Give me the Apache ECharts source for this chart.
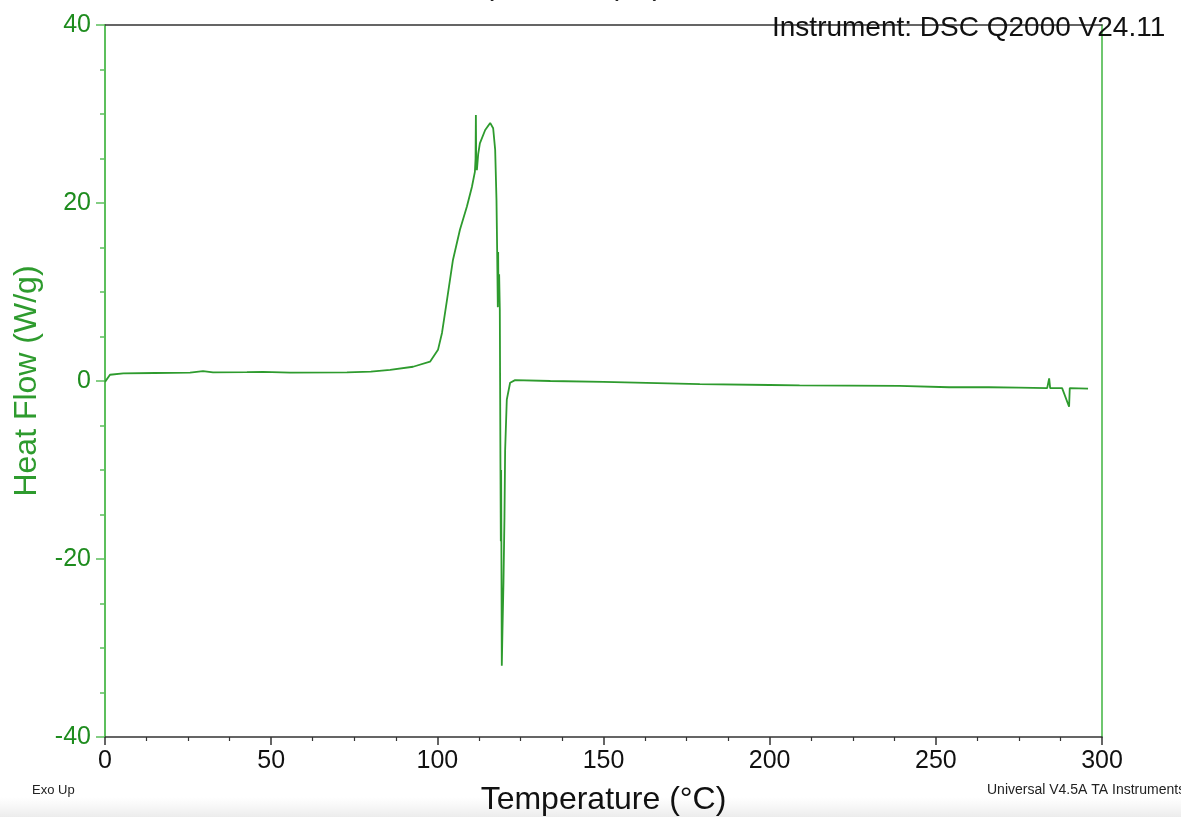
<!DOCTYPE html>
<html>
<head>
<meta charset="utf-8">
<script src="https://cdn.jsdelivr.net/npm/echarts@6/dist/echarts.min.js"></script>
<style>
html,body{margin:0;padding:0;background:#fff;}
#chart{width:1181px;height:817px;}
</style>
</head>
<body>
<div id="chart"></div>
<script>
// Temperature (°C)
const temps = [0.0, 1.5, 5.5, 15, 25.6, 29.5, 32.5, 42.7, 47.5, 55.7, 72.8, 80, 85.8, 92.7, 97.8, 100.2,
  101.4, 102.9, 104.7, 106.8, 108.9, 110.4, 111.3, 111.5, 111.6, 111.7, 111.9, 112.3, 112.8, 114.4, 115.9,
  116.8, 117.4, 117.8, 118.0, 118.2, 118.3, 118.4, 118.6, 118.8, 119.0, 119.1, 119.2, 119.4, 119.6, 119.9,
  120.2, 120.4, 120.9, 121.9, 123.4, 134, 150, 179, 200, 209, 239, 254, 265, 265.5, 266, 275, 283.5, 284.1,
  284.4, 288, 290.1, 290.3, 295.8];
// Heat Flow (W/g)
const heatFlow = [-0.1, 0.7, 0.85, 0.9, 0.93, 1.1, 0.96, 1.0, 1.03, 0.93, 0.97, 1.05, 1.24, 1.6, 2.17, 3.5,
  5.4, 9.1, 13.6, 17.0, 19.6, 21.8, 23.5, 25.0, 29.9, 24.5, 23.7, 25.5, 26.7, 28.2, 29.0,
  28.4, 26.0, 20.3, 14.7, 8.3, 14.5, 9.0, 12.0, 8.0, -10.0, -18.0, -10.0, -32.0, -28.0, -22.7,
  -15.3, -7.8, -2.1, -0.2, 0.1, 0.0, -0.1, -0.35, -0.45, -0.5, -0.55, -0.7, -0.7, -0.9, -0.7, -0.75, -0.8, 0.3,
  -0.8, -0.8, -2.9, -0.8, -0.85];
const xTicks = [0, 50, 100, 150, 200, 250, 300];
const yTicks = [-40, -20, 0, 20, 40];

const font = 'Liberation Sans, Arial, sans-serif';
const green = '#2e9b2e';
const axisGreen = '#5cbf5c';
const labelGreen = '#1e8c1e';

const chart = echarts.init(document.getElementById('chart'));
chart.setOption({
  animation: false,
  backgroundColor: '#ffffff',
  grid: { left: 105, right: 79, top: 25, bottom: 80, outerBoundsMode: 'none', containLabel: false },
  xAxis: [{
    type: 'value', min: xTicks[0], max: xTicks[xTicks.length - 1], interval: 50,
    axisLine: { show: true, onZero: false, lineStyle: { color: '#333', width: 1.5 } },
    axisTick: { show: true, inside: false, length: 8, lineStyle: { color: '#333', width: 1.5 } },
    minorTick: { show: true, splitNumber: 4, length: 4, lineStyle: { color: '#333', width: 1.2 } },
    splitLine: { show: false },
    axisLabel: { color: '#111', fontSize: 25, margin: 12, fontFamily: font },
    name: 'Temperature (°C)', nameLocation: 'middle', nameGap: 47,
    nameTextStyle: { color: '#111', fontSize: 32, fontFamily: font }
  }, {
    type: 'value', position: 'top', min: 0, max: 300,
    axisLine: { show: true, onZero: false, lineStyle: { color: '#333', width: 1.5 } },
    axisTick: { show: false }, axisLabel: { show: false }, splitLine: { show: false }
  }],
  yAxis: [{
    type: 'value', min: yTicks[0], max: yTicks[yTicks.length - 1], interval: 20,
    axisLine: { show: true, onZero: false, lineStyle: { color: axisGreen, width: 2 } },
    axisTick: { show: true, inside: false, length: 9, lineStyle: { color: axisGreen, width: 1.5 } },
    minorTick: { show: true, splitNumber: 4, length: 5, lineStyle: { color: axisGreen, width: 1.5 } },
    splitLine: { show: false },
    axisLabel: { color: labelGreen, fontSize: 25, margin: 14, fontFamily: font },
    name: 'Heat Flow (W/g)', nameLocation: 'middle', nameGap: 62,
    nameTextStyle: { color: green, fontSize: 32, fontFamily: font }
  }, {
    type: 'value', position: 'right', min: -40, max: 40,
    axisLine: { show: true, onZero: false, lineStyle: { color: '#3fb53f', width: 1.5 } },
    axisTick: { show: false }, axisLabel: { show: false }, splitLine: { show: false }
  }],
  series: [{
    type: 'line',
    xAxisIndex: 0, yAxisIndex: 0,
    data: temps.map((t, i) => [t, heatFlow[i]]),
    showSymbol: false,
    smooth: false,
    lineStyle: { color: green, width: 1.8 },
    z: 3
  }],
  graphic: [
    { type: 'rect', shape: { x: 0, y: 797, width: 1181, height: 20 }, z: -10,
      style: { fill: new echarts.graphic.LinearGradient(0, 0, 0, 1, [
        { offset: 0, color: 'rgba(240,240,240,0)' }, { offset: 1, color: '#ececec' }]) } },
    { type: 'text', left: 432, top: -28, z: 1,
      style: { text: 'Temperature (°C)', fontSize: 30, fontFamily: font, fill: '#222' } },
    { type: 'text', x: 772, y: 28, z: 1,
      style: { text: 'Instrument: DSC Q2000 V24.11', fontSize: 28, fontFamily: font, fill: '#111', verticalAlign: 'middle' } },
    { type: 'text', x: 32, y: 790, style: { text: 'Exo Up', fontSize: 13, fontFamily: font, fill: '#222', verticalAlign: 'middle' } },
    { type: 'text', x: 987, y: 790, style: { text: 'Universal V4.5A TA Instruments', fontSize: 14, fontFamily: font, fill: '#222', verticalAlign: 'middle' } }
  ]
});
</script>
</body>
</html>
